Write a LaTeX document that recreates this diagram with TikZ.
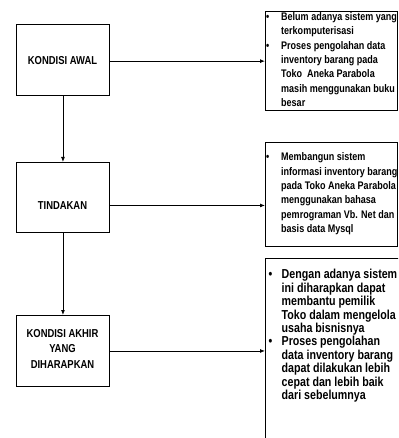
\documentclass[tikz,border=0pt]{standalone}
\usepackage{fontspec}
\setmainfont{Liberation Sans}[FakeStretch=0.82]
\usetikzlibrary{arrows.meta}
\begin{document}
\begin{tikzpicture}[x=1pt,y=-1pt,
  stagebox/.style={draw, line width=0.9pt, inner sep=0pt, anchor=north west,
    minimum width=93pt},
  notebox/.style={draw, line width=0.9pt, inner sep=0pt, anchor=north west,
    minimum width=131.5pt},
  stagelabel/.style={font=\fontsize{11.5}{15.5}\selectfont\bfseries,
    align=center, inner sep=0pt},
  notetext/.style={anchor=base west, inner sep=0pt,
    font=\fontsize{11}{14.3}\selectfont\bfseries},
  notetextbig/.style={anchor=base west, inner sep=0pt,
    font=\fontsize{13}{13.4}\selectfont\bfseries},
  flow/.style={line width=0.9pt, -{Latex[length=5pt,width=4pt]}},
  ]
\useasboundingbox (0,0) rectangle (398,438);
\clip (0,0) rectangle (398,438);
\fill[white] (0,0) rectangle (398,438);

% stage boxes on the left
\node[stagebox, minimum height=71pt] (b1) at (16,24) {};
\node[stagebox, minimum height=70pt] (b2) at (16,162) {};
\node[stagebox, minimum height=71pt] (b3) at (16,315) {};

\node[stagelabel] (t1) at (62.5,61) {KONDISI AWAL};
\node[stagelabel] (t2) at (62.5,206) {TINDAKAN};
\node[stagelabel] (t3) at (62.5,348.5) {KONDISI AKHIR\\YANG\\DIHARAPKAN};

% description boxes on the right; the last one runs past the edges
\node[notebox, minimum height=99pt] (r1) at (265,11) {};
\node[notebox, minimum height=104pt] (r2) at (265,142) {};
\node[notebox, minimum width=200pt, minimum height=200pt] (r3) at (265,258) {};

\node[notetext] (n1) at (266,20.7) {\begin{tabular}[t]{@{}p{15pt}@{}l@{}}
\textbullet & Belum adanya sistem yang\\
 & terkomputerisasi\\
\textbullet & Proses pengolahan data\\
 & inventory barang pada\\
 & Toko\ \ Aneka Parabola\\
 & masih menggunakan buku\\
 & besar
\end{tabular}};

\node[notetext] (n2) at (266,161) {\begin{tabular}[t]{@{}p{15pt}@{}l@{}}
\textbullet & Membangun sistem\\
 & informasi inventory barang\\
 & pada Toko Aneka Parabola\\
 & menggunakan bahasa\\
 & pemrograman Vb. Net dan\\
 & basis data Mysql
\end{tabular}};

\node[notetextbig] (n3) at (268.5,278.7) {\begin{tabular}[t]{@{}p{13pt}@{}l@{}}
\textbullet & Dengan adanya sistem\\
 & ini diharapkan dapat\\
 & membantu pemilik\\
 & Toko dalam mengelola\\
 & usaha bisnisnya\\
\textbullet & Proses pengolahan\\
 & data inventory barang\\
 & dapat dilakukan lebih\\
 & cepat dan lebih baik\\
 & dari sebelumnya
\end{tabular}};

% connectors
\coordinate (a1) at ([yshift=-1.2pt]b1.east);
\coordinate (a2) at ([yshift=-8pt]b2.east);
\coordinate (a3) at (b3.east);
\draw[flow] (a1) -- (a1 -| r1.west);
\draw[flow] (a2) -- (a2 -| r2.west);
\draw[flow] (a3) -- (a3 -| r3.west);
\draw[flow] (b1.south) -- (b2.north);
\draw[flow] (b2.south) -- (b3.north);
\end{tikzpicture}
\end{document}
